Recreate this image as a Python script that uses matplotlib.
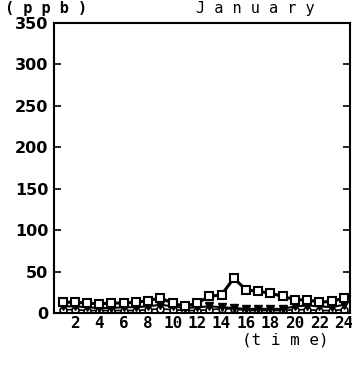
import matplotlib
matplotlib.use("Agg")
import matplotlib.pyplot as plt

hours = list(range(1, 25))
series_sq = [13, 13, 12, 11, 12, 12, 13, 15, 18, 12, 8, 12, 20, 22, 42, 28, 26, 24, 20, 16, 16, 13, 14, 18]
series_tri = [8, 8, 7, 6, 6, 7, 7, 8, 10, 8, 6, 7, 8, 7, 6, 5, 5, 5, 5, 8, 9, 8, 7, 10]
series_circ = [4, 4, 3, 3, 3, 3, 3, 4, 5, 4, 3, 3, 4, 5, 5, 3, 3, 3, 3, 4, 4, 3, 3, 4]
xticks = [2, 4, 6, 8, 10, 12, 14, 16, 18, 20, 22, 24]
yticks = [0, 50, 100, 150, 200, 250, 300, 350]

fig = plt.figure(figsize=(3.52, 3.69), dpi=100)
ax = fig.add_axes([54/352, 56/369, 296/352, 290/369])

ax.plot(hours, series_circ, color="black", lw=1.2, marker="o", ms=5, mfc="white", mec="black", mew=1.2)
ax.plot(hours, series_tri, color="black", lw=1.5, marker="v", ms=6, mfc="black", mec="black")
ax.plot(hours, series_sq, color="black", lw=2.2, marker="s", ms=6, mfc="white", mec="black", mew=1.5)

ax.set_xlim(0.3, 24.5)
ax.set_ylim(0, 350)
ax.set_xticks(xticks)
ax.set_yticks(yticks)
ax.tick_params(axis="y", direction="in", length=5, width=1.2, right=True, pad=4)
ax.tick_params(axis="x", length=0, pad=2)
for lab in ax.get_yticklabels():
    lab.set_fontfamily("DejaVu Sans")
    lab.set_fontweight("bold")
    lab.set_fontsize(11.5)
for lab in ax.get_xticklabels():
    lab.set_fontfamily("DejaVu Sans Mono")
    lab.set_fontweight("bold")
    lab.set_fontsize(11.5)
for s in ax.spines.values():
    s.set_linewidth(1.5)

fig.text(5/352, 1 - 8/369, "( p p b )", family="DejaVu Sans Mono", fontsize=11, fontweight="bold", va="center", ha="left")
fig.text(255/352, 1 - 8/369, "J a n u a r y", family="DejaVu Sans Mono", fontsize=11, va="center", ha="center")
fig.text(285/352, 1 - 340/369, "(t i m e)", family="DejaVu Sans Mono", fontsize=11.5, va="center", ha="center")

fig.savefig("out.png", dpi=100)
